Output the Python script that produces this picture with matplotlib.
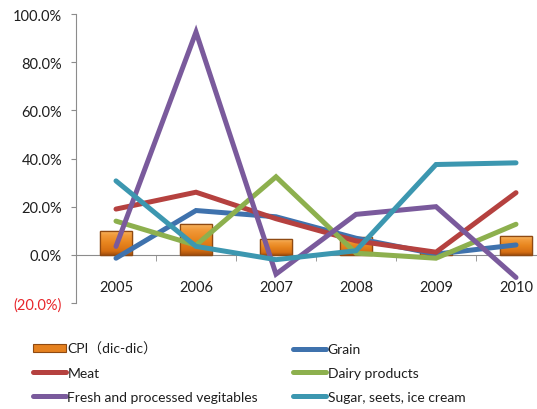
import matplotlib
matplotlib.use("Agg")
import matplotlib.pyplot as plt
import numpy as np
from matplotlib.ticker import FuncFormatter, FixedLocator
from matplotlib.colors import LinearSegmentedColormap
from matplotlib.patches import Patch

years = ["2005", "2006", "2007", "2008", "2009", "2010"]
cpi = [10.0, 13.0, 6.5, 7.6, 1.0, 7.7]
grain = [-1.4, 18.4, 15.8, 6.9, 0.3, 4.1]
meat = [19.0, 26.0, 15.0, 5.8, 1.1, 25.8]
dairy = [14.0, 4.0, 32.4, 0.7, -1.4, 12.7]
vegetables = [3.5, 92.5, -8.0, 16.8, 20.0, -9.4]
sugar = [30.7, 3.5, -2.0, 1.7, 37.5, 38.2]

labels = ["CPI（dic-dic）", "Grain", "Meat", "Dairy products",
          "Fresh and processed vegitables", "Sugar, seets, ice cream"]
colors = {"grain": "#3F72AD", "meat": "#B5413F", "dairy": "#8DB04E",
          "veg": "#7A5A9C", "sugar": "#3C97B0"}

plt.rcParams['font.family'] = ['Lato', 'Noto Sans CJK SC', 'DejaVu Sans']

fig = plt.figure(figsize=(5.37, 4.10), dpi=100)
ax = fig.add_axes([76/537, 106/410, 480/537, 289/410])

x = np.arange(len(years))
bars = ax.bar(x, cpi, width=0.41, color="#E5811F", edgecolor="#8F4A12",
              linewidth=0.9, zorder=2)
# gradient: row 0 = top of bar (light highlight), last row = bottom (darker)
cmap = LinearSegmentedColormap.from_list(
    "org", [(0.0, "#F7B866"), (0.2, "#F19A3A"), (0.5, "#E8861F"),
            (0.85, "#D56E12"), (1.0, "#A4500E")])
grad = np.linspace(0, 1, 64).reshape(-1, 1)
for b in bars:
    x0, y0 = b.get_x(), b.get_y()
    w, h = b.get_width(), b.get_height()
    im = ax.imshow(grad, cmap=cmap, aspect="auto", interpolation="bilinear",
                   extent=[x0, x0 + w, y0, y0 + h], origin="upper", zorder=2.1)
    im.set_clip_path(b)
# redraw edges above gradient
for b in bars:
    ax.add_patch(plt.Rectangle((b.get_x(), b.get_y()), b.get_width(), b.get_height(),
                               fill=False, edgecolor="#8F4A12", linewidth=0.9, zorder=2.2))

lw = 3.6
kw = dict(lw=lw, solid_capstyle="round", solid_joinstyle="miter", zorder=3)
h_grain, = ax.plot(x, grain, color=colors["grain"], **kw)
h_meat, = ax.plot(x, meat, color=colors["meat"], **kw)
h_dairy, = ax.plot(x, dairy, color=colors["dairy"], **kw)
h_veg, = ax.plot(x, vegetables, color=colors["veg"], **kw)
h_sugar, = ax.plot(x, sugar, color=colors["sugar"], **kw)

ax.set_xlim(-0.5, 5.5)
ax.set_ylim(-20, 100)
ax.set_yticks(np.arange(-20, 101, 20))

def fmt(v, pos):
    if v < 0:
        return "({:.1f}%)".format(-v)
    return "{:.1f}%".format(v)
ax.yaxis.set_major_formatter(FuncFormatter(fmt))

spine_col = "#8C8C8C"
for s in ["top", "right"]:
    ax.spines[s].set_visible(False)
ax.spines["left"].set_color(spine_col)
ax.spines["bottom"].set_color(spine_col)
ax.spines["bottom"].set_position(("data", 0))
ax.spines["bottom"].set_zorder(1)

ax.set_xticks(x)
ax.set_xticklabels(years)
ax.xaxis.set_minor_locator(FixedLocator(x[:-1] + 0.5))
ax.tick_params(axis="x", which="major", length=0, pad=18, labelsize=10.5, colors="#1E1E1E")
ax.tick_params(axis="x", which="minor", length=4, direction="out", color=spine_col)
ax.tick_params(axis="y", length=3.6, pad=6.5, labelsize=10.5, color=spine_col, labelcolor="#1E1E1E")

fig.canvas.draw()
for t in ax.get_yticklabels():
    if t.get_text().startswith("("):
        t.set_color("#E8262B")

h_cpi = Patch(facecolor="#E5811F", edgecolor="#8F4A12", linewidth=0.8)
handles = [h_cpi, h_meat, h_veg, h_grain, h_dairy, h_sugar]
leg_labels = [labels[0], labels[2], labels[4], labels[1], labels[3], labels[5]]
leg = fig.legend(handles, leg_labels, ncol=2, loc="upper left",
                 bbox_to_anchor=(30/537, 1 - 340/410), frameon=False,
                 fontsize=10, handlelength=2.4, handleheight=0.5,
                 handletextpad=0.1, columnspacing=2.5, labelspacing=0.85,
                 borderaxespad=0, borderpad=0.2)
for t in leg.get_texts():
    t.set_color("#1E1E1E")

fig.savefig("out.png", dpi=100)
